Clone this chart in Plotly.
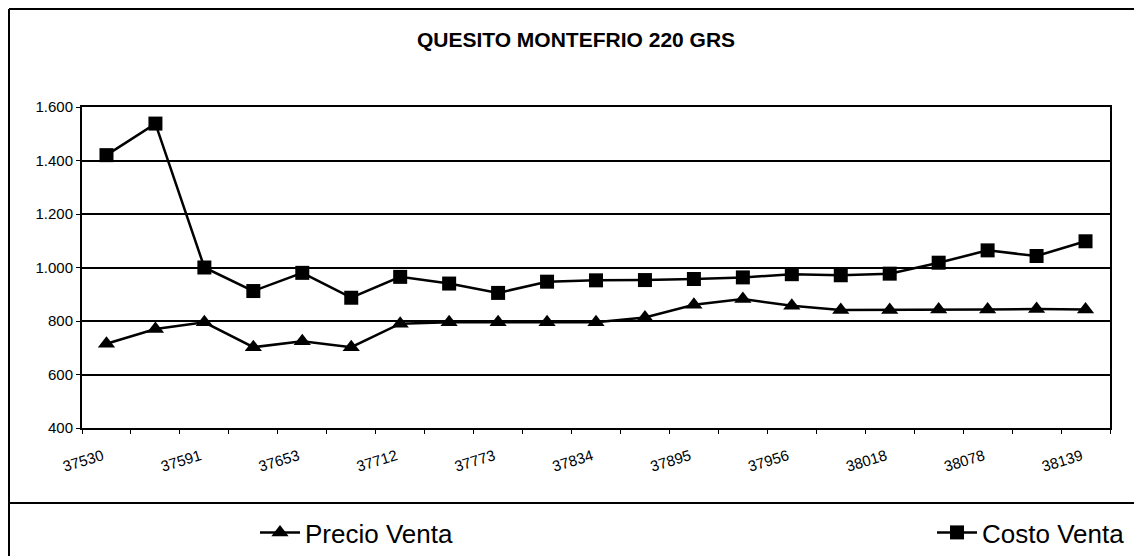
import plotly.graph_objects as go

fechas = ["37530", "37561", "37591", "37622", "37653", "37681", "37712", "37742",
          "37773", "37803", "37834", "37865", "37895", "37926", "37956", "37987",
          "38018", "38047", "38078", "38108", "38139"]
etiquetas = [f if i % 2 == 0 else "" for i, f in enumerate(fechas)]

precio_venta = [715, 770, 795, 702, 724, 702, 790, 795, 795, 795, 795, 813,
                861, 882, 857, 841, 841, 843, 843, 845, 843]
costo_venta = [1420, 1538, 1000, 912, 980, 887, 965, 940, 905, 947, 952, 953,
               957, 963, 975, 971, 977, 1018, 1064, 1043, 1098]

FONT = "Arial, 'Liberation Sans', sans-serif"

fig = go.Figure()
fig.add_trace(go.Scatter(
    x=fechas, y=precio_venta, name="Precio Venta", mode="lines+markers",
    line=dict(color="black", width=2.5),
    marker=dict(symbol="triangle-up", size=15, color="black"),
    legend="legend"))
fig.add_trace(go.Scatter(
    x=fechas, y=costo_venta, name="Costo Venta", mode="lines+markers",
    line=dict(color="black", width=2.5),
    marker=dict(symbol="square", size=14, color="black"),
    legend="legend2"))

W, H = 1142, 556
L, R, T, B = 74, 40, 99, 136
pw, ph = W - L - R, H - T - B


def px(x):
    return (x - L) / pw


def py(y):
    return (H - B - y) / ph


shapes = [
    dict(type="line", xref="paper", yref="paper", x0=px(1), x1=px(W + 5), y0=py(1), y1=py(1),
         line=dict(color="black", width=2)),
    dict(type="line", xref="paper", yref="paper", x0=px(1), x1=px(1), y0=py(1), y1=py(H + 5),
         line=dict(color="black", width=2)),
    dict(type="line", xref="paper", yref="paper", x0=px(1), x1=px(W + 5), y0=py(495), y1=py(495),
         line=dict(color="black", width=2)),
]

fig.update_layout(
    width=W, height=H,
    margin=dict(l=L, r=R, t=T, b=B, autoexpand=False),
    paper_bgcolor="white", plot_bgcolor="white",
    separators=",.",
    font=dict(family=FONT, color="black"),
    title=dict(text="<b>QUESITO MONTEFRIO 220 GRS</b>", x=568 / W, xanchor="center",
               y=1 - 32 / H, yanchor="middle", font=dict(size=21, family=FONT, color="black")),
    shapes=shapes,
    showlegend=True,
    legend=dict(xref="container", yref="container", x=247 / W, y=1 - 501 / H,
                xanchor="left", yanchor="top", font=dict(size=26, family=FONT),
                bgcolor="rgba(0,0,0,0)", itemwidth=40),
    legend2=dict(xref="container", yref="container", x=924 / W, y=1 - 501 / H,
                 xanchor="left", yanchor="top", font=dict(size=26, family=FONT),
                 bgcolor="rgba(0,0,0,0)", itemwidth=40),
)

fig.update_xaxes(
    type="category", range=[-0.5, len(fechas) - 0.5],
    tickvals=fechas, ticktext=etiquetas, tickangle=-17,
    tickson="boundaries", ticks="outside", ticklen=4, tickcolor="black",
    ticklabelshift=-4, ticklabelstandoff=12,
    showline=True, linecolor="black", linewidth=2, mirror=True,
    showgrid=False, tickfont=dict(size=15, family=FONT, color="black"))
fig.update_yaxes(
    range=[400, 1600], tickvals=[400, 600, 800, 1000, 1200, 1400, 1600], tickformat=",d",
    ticks="outside", ticklen=4, tickcolor="black",
    showline=True, linecolor="black", linewidth=2, mirror=True,
    showgrid=True, gridcolor="black", gridwidth=1.5, zeroline=False,
    tickfont=dict(size=15, family=FONT, color="black"))

fig.write_html("out.html")
